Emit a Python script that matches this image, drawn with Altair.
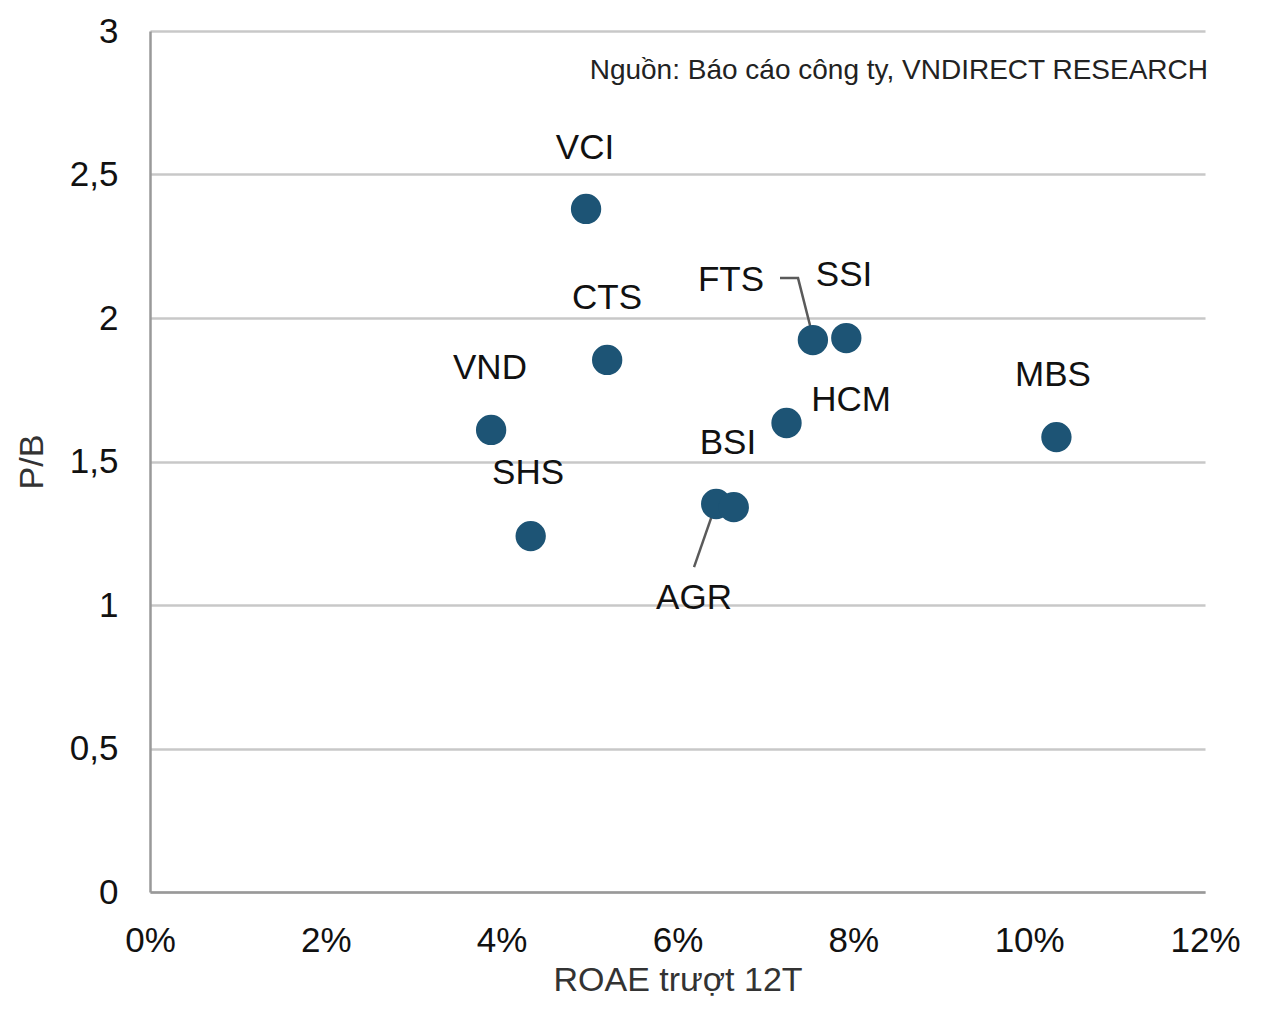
import altair as alt
import pandas as pd

# Data
tickers = ["VCI", "CTS", "VND", "SHS", "FTS", "SSI", "HCM", "MBS", "AGR", "BSI"]
roae = [0.0496, 0.0520, 0.0388, 0.0433, 0.0754, 0.0792, 0.0724, 0.1031, 0.0644, 0.0664]
pb = [2.38, 1.854, 1.61, 1.24, 1.923, 1.93, 1.634, 1.585, 1.352, 1.341]

# Label anchor positions (data units)
label_names = ["VCI", "CTS", "VND", "SHS", "FTS", "SSI", "HCM", "MBS", "BSI", "AGR"]
label_x = [0.04948, 0.05198, 0.03867, 0.04300, 0.06608, 0.07894, 0.07974, 0.10271, 0.06574, 0.06188]
label_y = [2.592, 2.070, 1.826, 1.460, 2.132, 2.150, 1.714, 1.801, 1.564, 1.024]

# Leader lines (data units)
leader_group = ["FTS", "FTS", "FTS", "AGR", "AGR"]
leader_order = [0, 1, 2, 0, 1]
leader_x = [0.07166, 0.07371, 0.07541, 0.06188, 0.06438]
leader_y = [2.139, 2.139, 1.934, 1.132, 1.352]

note_text = "Nguồn: Báo cáo công ty, VNDIRECT RESEARCH"

pts = pd.DataFrame({"ticker": tickers, "roae": roae, "pb": pb})
labs = pd.DataFrame({"ticker": label_names, "x": label_x, "y": label_y})
leaders = pd.DataFrame({"g": leader_group, "o": leader_order, "x": leader_x, "y": leader_y})

FONT = "Liberation Sans"

xscale = alt.Scale(domain=[0, 0.12], nice=False, zero=True)
yscale = alt.Scale(domain=[0, 3], nice=False)

xaxis = alt.Axis(
    values=[0, 0.02, 0.04, 0.06, 0.08, 0.10, 0.12], format=".0%",
    title="ROAE  trượt 12T", grid=False, ticks=False,
    labelFlush=False, labelOverlap=False, labelBound=False,
    labelPadding=31, labelFontSize=35, labelColor="#111111", labelFont=FONT,
    titleFont=FONT, titleFontSize=34, titleFontWeight="normal", titleColor="#333333",
    titlePadding=5, domainColor="#999999", domainWidth=2.5,
)
yaxis = alt.Axis(
    values=[0, 0.5, 1, 1.5, 2, 2.5, 3],
    labelExpr="replace(toString(datum.value), '.', ',')",
    labelFlush=False, labelOverlap=False, labelBound=False,
    title="P/B", grid=True, gridColor="#C8C8C8", gridWidth=2.5, ticks=False,
    labelPadding=32, labelFontSize=35, labelColor="#111111", labelFont=FONT,
    titleFont=FONT, titleFontSize=34, titleFontWeight="normal", titleColor="#333333",
    titlePadding=20, domainColor="#999999", domainWidth=2.5,
)

points = alt.Chart(pts).mark_circle(size=920, opacity=1, color="#1D5475").encode(
    x=alt.X("roae:Q", scale=xscale, axis=xaxis),
    y=alt.Y("pb:Q", scale=yscale, axis=yaxis),
)

lines = alt.Chart(leaders).mark_line(color="#5A5A5A", strokeWidth=2.5).encode(
    x=alt.X("x:Q", scale=xscale),
    y=alt.Y("y:Q", scale=yscale),
    detail="g:N",
    order="o:Q",
)

texts = alt.Chart(labs).mark_text(
    font=FONT, fontSize=35, color="#111111", align="center", baseline="middle"
).encode(
    x=alt.X("x:Q", scale=xscale),
    y=alt.Y("y:Q", scale=yscale),
    text="ticker:N",
)

note = alt.Chart(pd.DataFrame({"t": [note_text], "x": [0.12], "y": [2.862]})).mark_text(
    font=FONT, fontSize=28, color="#222222", align="right",
    baseline="middle", dx=3
).encode(
    x=alt.X("x:Q", scale=xscale),
    y=alt.Y("y:Q", scale=yscale),
    text="t:N",
)

chart = alt.layer(lines, points, texts, note).properties(
    width=1055, height=861,
    background="white",
    autosize=alt.AutoSizeParams(type="none"),
    padding={"left": 142, "top": 23, "right": 60, "bottom": 110},
).configure_view(stroke=None)

chart.save("out.html", embed_options={"renderer": "svg", "actions": False})
